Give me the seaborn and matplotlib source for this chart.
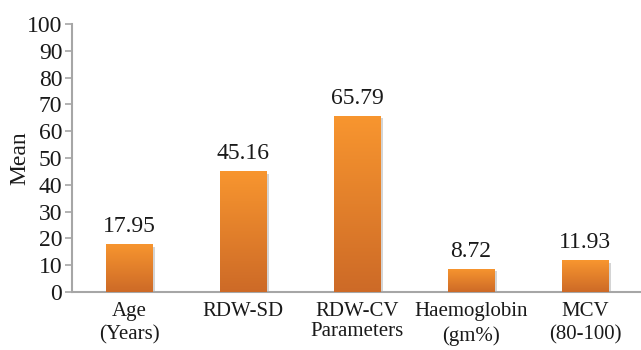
import numpy as np
import pandas as pd
import seaborn as sns
import matplotlib
matplotlib.use("Agg")
import matplotlib.pyplot as plt
from matplotlib.colors import LinearSegmentedColormap
import matplotlib.patheffects as pe

categories = ["Age\n(Years)", "RDW-SD", "RDW-CV", "Haemoglobin\n(gm%)", "MCV\n(80-100)"]
means = [17.95, 45.16, 65.79, 8.72, 11.93]
value_labels = ["17.95", "45.16", "65.79", "8.72", "11.93"]
y_ticks = list(range(0, 101, 10))

sns.set_theme(style="white")
plt.rcParams["font.family"] = ["Liberation Serif", "DejaVu Serif"]

df = pd.DataFrame({"Parameter": categories, "Mean": means})

fig = plt.figure(figsize=(6.41, 3.5), dpi=100)
ax = fig.add_axes([72 / 641, 58 / 350, 570 / 641, 268 / 350])

sns.barplot(data=df, x="Parameter", y="Mean", color="#E8822C", width=0.41,
            saturation=1, ax=ax, zorder=2)

# orange vertical gradient on each bar, darker toward the base
grad = LinearSegmentedColormap.from_list("bar_grad", ["#CD6A27", "#F8962F"])
gimg = np.linspace(0, 1, 256).reshape(-1, 1)
for bar in ax.patches:
    bar.set_edgecolor("none")
    bar.set_path_effects([pe.SimplePatchShadow(offset=(2, -2), alpha=0.25, shadow_rgbFace="#555555"),
                          pe.Normal()])
    x0, w, h = bar.get_x(), bar.get_width(), bar.get_height()
    im = ax.imshow(gimg, cmap=grad, origin="lower", aspect="auto",
                   extent=(x0, x0 + w, 0, h), zorder=3)
    im.set_clip_path(bar)

for i, (v, lab) in enumerate(zip(means, value_labels)):
    ax.annotate(lab, (i, v), xytext=(0, 5), textcoords="offset points",
                ha="center", va="bottom", fontsize=17, color="#1a1a1a")

ax.set_xlim(-0.5, 4.5)
ax.set_ylim(0, 100)
ax.set_yticks(y_ticks)
ax.set_yticklabels([str(t) for t in y_ticks], fontsize=17, color="#1a1a1a")
ax.set_xticks(range(len(categories)))
ax.set_xticklabels(categories, fontsize=15, color="#1a1a1a", linespacing=1.35)
ax.set_xticks(np.arange(-0.5, len(categories), 1.0), minor=True)
ax.tick_params(axis="x", which="major", length=0, pad=7)
ax.tick_params(axis="x", which="minor", length=5, width=1.2, color="#A6A6A6", direction="out")
ax.tick_params(axis="y", length=5, width=1.2, color="#A6A6A6", direction="out", pad=2, left=True)

ax.set_ylabel("Mean", fontsize=17, color="#1a1a1a", va="center")
ax.yaxis.set_label_coords(-52 / 570, 0.5)
ax.set_xlabel("Parameters", fontsize=15, color="#1a1a1a", va="center")
ax.xaxis.set_label_coords(0.5, -40 / 268)

for side in ("top", "right"):
    ax.spines[side].set_visible(False)
for side in ("left", "bottom"):
    ax.spines[side].set_color("#A6A6A6")
    ax.spines[side].set_linewidth(1.5)

fig.savefig("out.png", dpi=100, facecolor="white")
